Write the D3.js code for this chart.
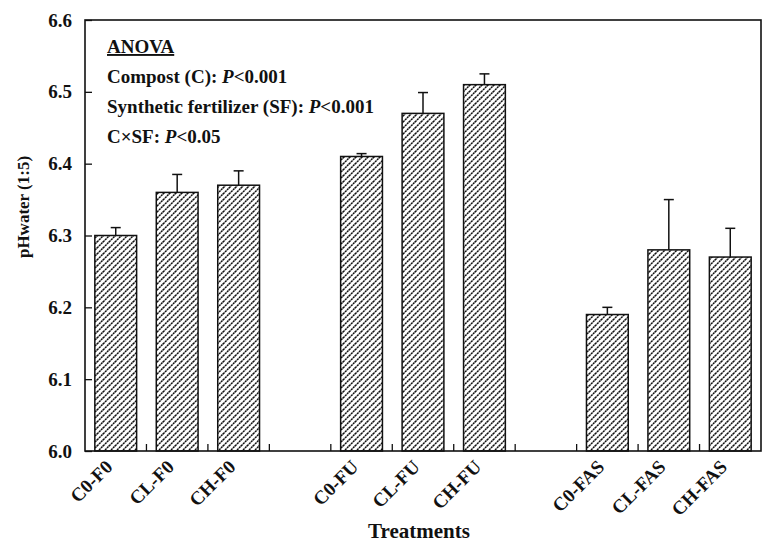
<!DOCTYPE html>
<meta charset="utf-8">
<script src="https://d3js.org/d3.v7.min.js"></script>
<style>
body { margin: 0; background: #fff; }
text { font-family: "Liberation Serif", "Times New Roman", serif; font-weight: bold; fill: #111; }
</style>
<div id="chart"></div>
<script>
// data
var slots = ["C0-F0", "CL-F0", "CH-F0", "_gap1", "C0-FU", "CL-FU", "CH-FU", "_gap2", "C0-FAS", "CL-FAS", "CH-FAS"];
var treatments = ["C0-F0", "CL-F0", "CH-F0", "C0-FU", "CL-FU", "CH-FU", "C0-FAS", "CL-FAS", "CH-FAS"];
var phMean = [6.30, 6.36, 6.37, 6.41, 6.47, 6.51, 6.19, 6.28, 6.27];
var phErr = [0.011, 0.025, 0.02, 0.004, 0.029, 0.015, 0.01, 0.07, 0.04];
var yTicks = [6.0, 6.1, 6.2, 6.3, 6.4, 6.5, 6.6];
var anova = [
  {label: "Compost (C): ", p: "<0.001"},
  {label: "Synthetic fertilizer (SF): ", p: "<0.001"},
  {label: "C\u00d7SF: ", p: "<0.05"}
];

var W = 763, H = 542;
var margin = {top: 20, right: 2, bottom: 91, left: 85};
var width = W - margin.left - margin.right,
    height = H - margin.top - margin.bottom;

var svg = d3.select("#chart").append("svg")
    .attr("width", W).attr("height", H);

// hatch fill: "/" lines, slightly broken like the print
var defs = svg.append("defs");
var pat = defs.append("pattern")
    .attr("id", "hatch")
    .attr("patternUnits", "userSpaceOnUse")
    .attr("width", 6).attr("height", 6);
pat.append("path")
    .attr("d", "M0,6 L6,0 M-1,1 L1,-1 M5,7 L7,5")
    .attr("stroke", "#111")
    .attr("stroke-width", 1.5)
    .attr("stroke-dasharray", "2.2,0.63");

var g = svg.append("g")
    .attr("transform", "translate(" + margin.left + "," + margin.top + ")");

var x = d3.scaleBand().domain(slots).range([0, width]).padding(0);
var y = d3.scaleLinear().domain([6.0, 6.6]).range([height, 0]);
var barW = x.bandwidth() * 0.68;

// y axis with inward ticks
var yAxis = g.append("g")
    .call(d3.axisLeft(y).tickValues(yTicks).tickFormat(d3.format(".1f"))
      .tickSizeInner(-7).tickSizeOuter(0).tickPadding(13));
yAxis.select(".domain").remove();
yAxis.selectAll("line").attr("stroke", "#111").attr("stroke-width", 1.3);
yAxis.selectAll("text").style("font-size", "19px")
    .style("font-family", "Liberation Serif").style("font-weight", "bold");

// x ticks at slot boundaries, pointing up
g.append("g").selectAll("line")
  .data(slots.slice(1))
  .join("line")
    .attr("x1", function(d) { return x(d); })
    .attr("x2", function(d) { return x(d); })
    .attr("y1", height).attr("y2", height - 7)
    .attr("stroke", "#111").attr("stroke-width", 1.3);

// bars
var data = treatments.map(function(t, i) { return {t: t, v: phMean[i], e: phErr[i]}; });
var cx = function(d) { return x(d.t) + x.bandwidth() / 2; };

g.append("g").selectAll("rect")
  .data(data)
  .join("rect")
    .attr("x", function(d) { return cx(d) - barW / 2; })
    .attr("y", function(d) { return y(d.v); })
    .attr("width", barW)
    .attr("height", function(d) { return height - y(d.v); })
    .attr("fill", "url(#hatch)")
    .attr("stroke", "#111")
    .attr("stroke-width", 1.5);

// error bars (upper only)
var eb = g.append("g").selectAll("g").data(data).join("g");
eb.append("line")
    .attr("x1", cx).attr("x2", cx)
    .attr("y1", function(d) { return y(d.v); })
    .attr("y2", function(d) { return y(d.v + d.e); })
    .attr("stroke", "#111").attr("stroke-width", 1.5);
eb.append("line")
    .attr("x1", function(d) { return cx(d) - 5; })
    .attr("x2", function(d) { return cx(d) + 5; })
    .attr("y1", function(d) { return y(d.v + d.e); })
    .attr("y2", function(d) { return y(d.v + d.e); })
    .attr("stroke", "#111").attr("stroke-width", 1.5);

// frame
g.append("rect")
    .attr("width", width).attr("height", height)
    .attr("fill", "none").attr("stroke", "#111").attr("stroke-width", 1.6);

// x labels, rotated
g.append("g").selectAll("text")
  .data(treatments)
  .join("text")
    .attr("transform", function(d) {
      return "translate(" + (x(d) + x.bandwidth() / 2 - 2) + "," + (height + 17) + ") rotate(-45)";
    })
    .attr("text-anchor", "end")
    .style("font-size", "19px")
    .text(function(d) { return d; });

// axis titles
svg.append("text")
    .attr("x", margin.left + width / 2 - 4)
    .attr("y", 538)
    .attr("text-anchor", "middle")
    .style("font-size", "21px")
    .text("Treatments");

svg.append("text")
    .attr("transform", "translate(29,207) rotate(-90)")
    .attr("text-anchor", "middle")
    .style("font-size", "17px")
    .text("pHwater (1:5)");

// ANOVA note
var note = g.append("g").attr("transform", "translate(22,0)");
note.append("text")
    .attr("y", 33)
    .style("font-size", "19px")
    .style("text-decoration", "underline")
    .text("ANOVA");
note.selectAll("text.row")
  .data(anova)
  .join("text")
    .attr("class", "row")
    .attr("y", function(d, i) { return 63 + i * 30; })
    .style("font-size", "19px")
    .each(function(d) {
      var t = d3.select(this);
      t.append("tspan").text(d.label);
      t.append("tspan").style("font-style", "italic").text("P");
      t.append("tspan").text(d.p);
    });
</script>
